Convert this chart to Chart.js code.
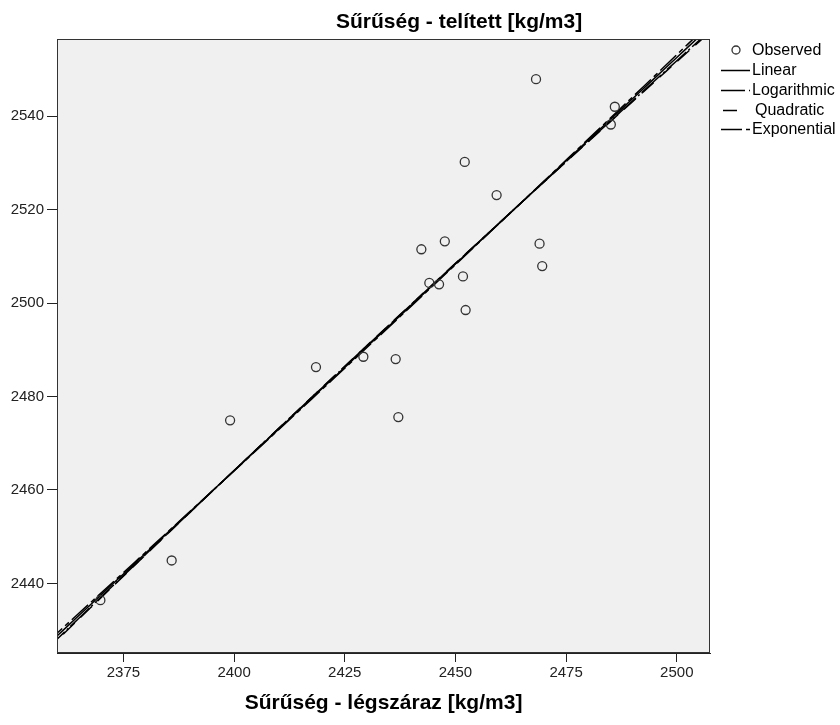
<!DOCTYPE html>
<html>
<head>
<meta charset="utf-8">
<script src="https://cdn.jsdelivr.net/npm/chart.js@4/dist/chart.umd.min.js"></script>
<style>
  html, body { margin: 0; padding: 0; background: #ffffff; }
  #wrap { width: 840px; height: 725px; }
</style>
</head>
<body>
<div id="wrap"><canvas id="c" width="840" height="725"></canvas></div>
<script>
// Density pairs: air-dry vs. saturated (kg/m3)
const chartTitle = 'Sűrűség - telített [kg/m3]';
const xAxisTitle = 'Sűrűség - légszáraz [kg/m3]';
const seriesNames = ['Observed', 'Linear', 'Logarithmic', 'Quadratic', 'Exponential'];

const airDry = [
  2468.2, 2486.0, 2485.1, 2452.1, 2459.3, 2442.3, 2447.6, 2469.0, 2469.6, 2444.1,
  2446.3, 2451.7, 2452.3, 2399.1, 2418.5, 2429.2, 2436.5, 2437.1, 2369.8, 2385.9
];
const saturated = [
  2547.9, 2542.0, 2538.2, 2530.2, 2523.1, 2511.5, 2513.2, 2512.7, 2507.9, 2504.3,
  2504.0, 2505.7, 2498.5, 2474.9, 2486.3, 2488.5, 2488.0, 2475.6, 2436.4, 2444.9
];

const xTicks = [2375, 2400, 2425, 2450, 2475, 2500];
const yTicks = [2440, 2460, 2480, 2500, 2520, 2540];
const xRange = [2360, 2507.5];
const yRange = [2425.1, 2556.5];

// ---- least-squares curve fits ----
function mean(a) { return a.reduce((s, v) => s + v, 0) / a.length; }
function simpleFit(u, v) {
  const mu = mean(u), mv = mean(v);
  let sxy = 0, sxx = 0;
  for (let i = 0; i < u.length; i++) { sxy += (u[i] - mu) * (v[i] - mv); sxx += (u[i] - mu) ** 2; }
  const b = sxy / sxx;
  return { a: mv - b * mu, b };
}
const lin = simpleFit(airDry, saturated);
const logf = simpleFit(airDry.map(Math.log), saturated);
const expf = simpleFit(airDry, saturated.map(Math.log));
// quadratic on centred x
const xm = mean(airDry);
const quad = (() => {
  const t = airDry.map(x => x - xm);
  let s0 = t.length, s1 = 0, s2 = 0, s3 = 0, s4 = 0, r0 = 0, r1 = 0, r2 = 0;
  t.forEach((ti, i) => {
    const yi = saturated[i];
    s1 += ti; s2 += ti * ti; s3 += ti ** 3; s4 += ti ** 4;
    r0 += yi; r1 += ti * yi; r2 += ti * ti * yi;
  });
  const M = [[s0, s1, s2, r0], [s1, s2, s3, r1], [s2, s3, s4, r2]];
  for (let c = 0; c < 3; c++) {
    for (let r = c + 1; r < 3; r++) {
      const f = M[r][c] / M[c][c];
      for (let k = c; k < 4; k++) M[r][k] -= f * M[c][k];
    }
  }
  const sol = [0, 0, 0];
  for (let r = 2; r >= 0; r--) {
    let s = M[r][3];
    for (let k = r + 1; k < 3; k++) s -= M[r][k] * sol[k];
    sol[r] = s / M[r][r];
  }
  return sol;
})();

const fitFns = {
  Linear: x => lin.a + lin.b * x,
  Logarithmic: x => logf.a + logf.b * Math.log(x),
  Quadratic: x => { const t = x - xm; return quad[0] + quad[1] * t + quad[2] * t * t; },
  Exponential: x => Math.exp(expf.a + expf.b * x)
};
function curve(fn) {
  const pts = [];
  for (let x = xRange[0] - 20; x <= xRange[1] + 20; x += 2.5) pts.push({ x, y: fn(x) });
  return pts;
}

const lineDash = {
  Linear: [],
  Logarithmic: [26, 3, 2, 3],
  Quadratic: [16, 8],
  Exponential: [22, 4, 5, 4]
};

const observed = airDry.map((x, i) => ({ x, y: saturated[i] }));

const fitSets = seriesNames.slice(1).map(name => ({
  label: name,
  data: curve(fitFns[name]),
  showLine: true,
  pointRadius: 0,
  borderColor: '#000000',
  borderWidth: 1.5,
  borderDash: lineDash[name],
  fill: false
}));

const FONT = '"Liberation Sans", Arial, sans-serif';

const frame = {
  id: 'frame',
  beforeDraw(chart) {
    const { ctx, chartArea: a } = chart;
    ctx.save();
    ctx.fillStyle = '#ffffff';
    ctx.fillRect(0, 0, chart.width, chart.height);
    ctx.fillStyle = '#f0f0f0';
    ctx.fillRect(a.left, a.top, a.right - a.left, a.bottom - a.top);
    ctx.restore();
  },
  afterDraw(chart) {
    const { ctx, chartArea: a } = chart;
    ctx.save();
    ctx.strokeStyle = '#333333';
    ctx.lineWidth = 1;
    ctx.strokeRect(a.left + 0.5, a.top + 0.5, a.right - a.left - 1, a.bottom - a.top - 1);

    // chart title
    ctx.fillStyle = '#000000';
    ctx.font = 'bold 21px ' + FONT;
    ctx.textAlign = 'left';
    ctx.textBaseline = 'alphabetic';
    ctx.fillText(chartTitle, 336, 28);

    // legend
    const lx = 721, tx = 752;
    const rows = [50, 70, 90, 110, 129];
    ctx.font = '16px ' + FONT;
    ctx.textAlign = 'left';
    ctx.textBaseline = 'middle';
    ctx.fillStyle = '#000000';
    chart.data.datasets.forEach((ds, i) => {
      const y = rows[i];
      ctx.setLineDash([]);
      if (i === 0) {
        ctx.lineWidth = 1.3;
        ctx.strokeStyle = '#333333';
        ctx.beginPath();
        ctx.arc(736, y, 4, 0, Math.PI * 2);
        ctx.stroke();
      } else {
        ctx.lineWidth = 1.5;
        ctx.strokeStyle = '#000000';
        const segs = {
          Linear: [[lx, 750]],
          Logarithmic: [[lx, 745], [749, 750]],
          Quadratic: [[723, 737]],
          Exponential: [[lx, 742], [746, 750]]
        }[ds.label];
        segs.forEach(([x0, x1]) => {
          ctx.beginPath();
          ctx.moveTo(x0, y + 0.5);
          ctx.lineTo(x1, y + 0.5);
          ctx.stroke();
        });
      }
      ctx.fillText(ds.label, ds.label === 'Quadratic' ? tx + 3 : tx, y + 1);
    });
    ctx.restore();
  }
};

new Chart(document.getElementById('c'), {
  type: 'scatter',
  data: {
    datasets: [
      {
        label: seriesNames[0],
        data: observed,
        pointStyle: 'circle',
        pointRadius: 4.5,
        pointBorderWidth: 1.3,
        borderColor: '#333333',
        backgroundColor: 'rgba(0,0,0,0)',
        showLine: false
      },
      ...fitSets
    ]
  },
  options: {
    responsive: false,
    animation: false,
    events: [],
    layout: { padding: { top: 39, right: 130, left: 0, bottom: 0 } },
    plugins: {
      legend: { display: false },
      title: { display: false },
      tooltip: { enabled: false }
    },
    scales: {
      x: {
        type: 'linear',
        min: xRange[0],
        max: xRange[1],
        afterFit(scale) { scale.height = 72; },
        afterBuildTicks(scale) { scale.ticks = xTicks.map(v => ({ value: v })); },
        grid: { drawOnChartArea: false, drawTicks: true, tickLength: 9, tickColor: '#222222', tickWidth: 1 },
        border: { display: true, color: '#222222', width: 1 },
        ticks: {
          color: '#222222', font: { family: FONT, size: 15 }, padding: 2, maxRotation: 0,
          callback: v => String(v)
        },
        title: {
          display: true,
          text: xAxisTitle,
          color: '#000000',
          font: { family: FONT, size: 21, weight: 'bold' },
          padding: { top: 0, bottom: 9 }
        }
      },
      y: {
        type: 'linear',
        min: yRange[0],
        max: yRange[1],
        afterFit(scale) { scale.width = 57; },
        afterBuildTicks(scale) { scale.ticks = yTicks.map(v => ({ value: v })); },
        grid: { drawOnChartArea: false, drawTicks: true, tickLength: 10, tickColor: '#222222', tickWidth: 1 },
        border: { display: true, color: '#222222', width: 1 },
        ticks: {
          color: '#222222', font: { family: FONT, size: 15 }, padding: 3,
          callback: v => String(v)
        }
      }
    }
  },
  plugins: [frame]
});
</script>
</body>
</html>
